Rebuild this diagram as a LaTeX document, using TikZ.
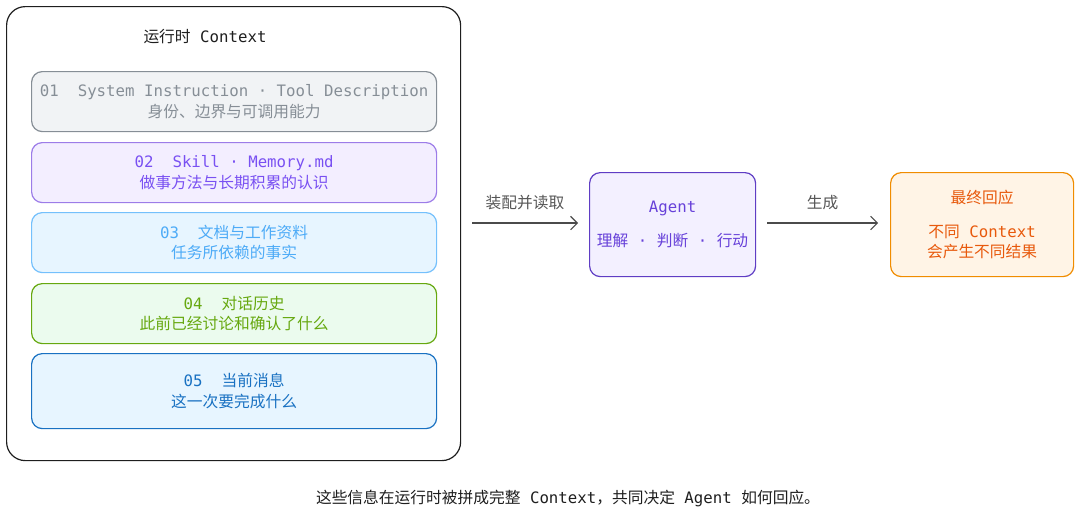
\documentclass[tikz,border=0pt]{standalone}
\usepackage{fontspec}
\setmainfont{Noto Sans CJK SC}
\newfontfamily\mo{DejaVu Sans Mono}
\newcommand{\m}[1]{{\mo #1}}
\usetikzlibrary{arrows.meta}
\definecolor{g1}{HTML}{868E96}\definecolor{g1f}{HTML}{F1F3F5}
\definecolor{p1}{HTML}{9C7CE8}\definecolor{p1f}{HTML}{F3EEFF}\definecolor{p1t}{HTML}{7950F2}
\definecolor{b1}{HTML}{74C0FC}\definecolor{b1f}{HTML}{E7F5FF}\definecolor{b1t}{HTML}{4DABF7}
\definecolor{gr}{HTML}{66A80F}\definecolor{grf}{HTML}{EBFBEE}
\definecolor{b2}{HTML}{1971C2}
\definecolor{ag}{HTML}{5F3DC4}\definecolor{agf}{HTML}{F3F0FF}\definecolor{agt}{HTML}{6741D9}
\definecolor{fo}{HTML}{F08C00}\definecolor{fof}{HTML}{FFF4E6}\definecolor{fot}{HTML}{E8590C}
\definecolor{tx}{HTML}{1E1E1E}
\begin{document}
\begin{tikzpicture}[x=0.75pt,y=-0.75pt,font=\fontsize{11.8}{15.5}\selectfont,
 box/.style={draw,rounded corners=8pt,line width=0.9pt,align=center,anchor=north west,inner sep=0pt},
 arr/.style={-{Straight Barb[length=5pt]},line width=0.8pt,draw=tx!80}]
\useasboundingbox (0,0) rectangle (1080,518);
\node[box,draw=tx,minimum width=454*0.75pt,minimum height=454*0.75pt,rounded corners=14pt] (ctx) at (6,6) {};
\node[text=tx] (ct) at (205,37) {运行时\m{ Context}};
\node[box,draw=g1,fill=g1f,text=g1,minimum width=405*0.75pt,minimum height=60*0.75pt] (l1) at (31,71) {\m{01\ \ System Instruction · Tool Description}\\身份、边界与可调用能力};
\node[box,draw=p1,fill=p1f,text=p1t,minimum width=405*0.75pt,minimum height=60*0.75pt] (l2) at (31,142) {\m{02\ \ Skill · Memory.md}\\做事方法与长期积累的认识};
\node[box,draw=b1,fill=b1f,text=b1t,minimum width=405*0.75pt,minimum height=60*0.75pt] (l3) at (31,212) {\m{03\ \ }文档与工作资料\\任务所依赖的事实};
\node[box,draw=gr,fill=grf,text=gr,minimum width=405*0.75pt,minimum height=60*0.75pt] (l4) at (31,283) {\m{04\ \ }对话历史\\此前已经讨论和确认了什么};
\node[box,draw=b2,fill=b1f,text=b2,minimum width=405*0.75pt,minimum height=75*0.75pt] (l5) at (31,353) {\m{05\ \ }当前消息\\这一次要完成什么};
\node[box,draw=ag,fill=agf,text=agt,minimum width=166*0.75pt,minimum height=104*0.75pt] (ag) at (589,172) {\m{Agent}\\[10pt]理解\m{ · }判断\m{ · }行动};
\node[box,draw=fo,fill=fof,text=fot,minimum width=183*0.75pt,minimum height=104*0.75pt] (fin) at (890,172) {最终回应\\[10pt]不同\m{ Context}\\会产生不同结果};
\coordinate (a1) at (472,223);
\coordinate (a2) at (578,223);
\coordinate (b1) at (767,223);
\coordinate (b2) at (878,223);
\draw[arr] (a1) -- (a2) node[midway,above=6pt,text=tx!75] {装配并读取};
\draw[arr] (b1) -- (b2) node[midway,above=6pt,text=tx!75] {生成};
\node[text=tx] (cap) at (568,498) {这些信息在运行时被拼成完整\m{ Context}，共同决定\m{ Agent }如何回应。};
\end{tikzpicture}
\end{document}
